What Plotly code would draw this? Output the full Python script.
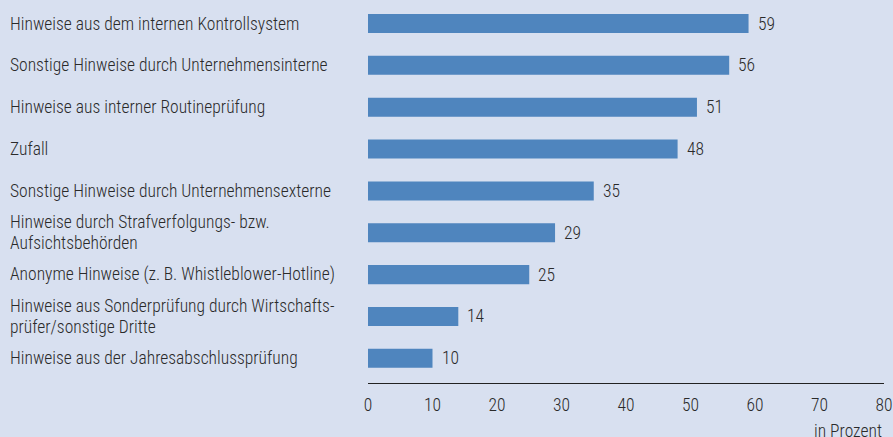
import plotly.graph_objects as go

# Categories (top to bottom), multi-line labels split by "\n"
categories = [
    "Hinweise aus dem internen Kontrollsystem",
    "Sonstige Hinweise durch Unternehmensinterne",
    "Hinweise aus interner Routineprüfung",
    "Zufall",
    "Sonstige Hinweise durch Unternehmensexterne",
    "Hinweise durch Strafverfolgungs- bzw.\nAufsichtsbehörden",
    "Anonyme Hinweise (z.\u2009B. Whistleblower-Hotline)",
    "Hinweise aus Sonderprüfung durch Wirtschafts-\nprüfer/sonstige Dritte",
    "Hinweise aus der Jahresabschlussprüfung",
]
values = [59, 56, 51, 48, 35, 29, 25, 14, 10]
x_ticks = [0, 10, 20, 30, 40, 50, 60, 70, 80]
unit_label = "in Prozent"

W, H = 893, 437
L, R, T, B = 368, 7, 0, 54
BG = "#d8e0f0"
BAR = "#4f85be"
TXT = "#2a2a2a"
FONT = "Roboto Condensed, DejaVu Sans Condensed, sans-serif"
FS = 17.5
WEIGHT = 300


def text_font(size=FS):
    return dict(family=FONT, size=size, color=TXT, weight=WEIGHT)


pos = list(range(len(categories)))

fig = go.Figure(
    go.Bar(
        x=values,
        y=pos,
        orientation="h",
        width=0.455,
        marker=dict(color=BAR, line=dict(width=0)),
        hoverinfo="skip",
    )
)

annotations = []
plot_w = W - L - R
label_x = (7 - L) / plot_w
for i, (cat, v) in enumerate(zip(categories, values)):
    lines = cat.split("\n")
    n = len(lines)
    for k, line in enumerate(lines):
        shift = ((n - 1) / 2 - k) * 21
        annotations.append(dict(
            x=label_x, xref="paper", y=i, yref="y",
            text=line, showarrow=False, xanchor="left", yanchor="middle",
            yshift=shift, font=text_font(),
        ))
    annotations.append(dict(
        x=v, xref="x", y=i, yref="y", text=str(v), showarrow=False,
        xanchor="left", yanchor="middle", xshift=7, font=text_font(),
    ))

annotations.append(dict(
    x=1, xref="paper", y=0, yref="paper", text=unit_label, showarrow=False,
    xanchor="right", yanchor="top", yshift=-36, xshift=0, font=text_font(),
))

fig.update_layout(
    width=W, height=H,
    margin=dict(l=L, r=R, t=T, b=B, pad=0),
    paper_bgcolor=BG, plot_bgcolor=BG,
    showlegend=False,
    annotations=annotations,
    xaxis=dict(
        range=[0, 80], tickvals=x_ticks, ticktext=[str(t) for t in x_ticks],
        showgrid=False, zeroline=False, showline=True, linecolor="#222222",
        linewidth=1.3, ticks="outside", ticklen=6, tickcolor="rgba(0,0,0,0)",
        ticklabeloverflow="allow", tickfont=text_font(), fixedrange=True,
    ),
    yaxis=dict(
        range=[8.59, -0.5615], showticklabels=False, showgrid=False,
        zeroline=False, showline=False, fixedrange=True,
    ),
)

fig.write_html("out.html", config={"displayModeBar": False})
